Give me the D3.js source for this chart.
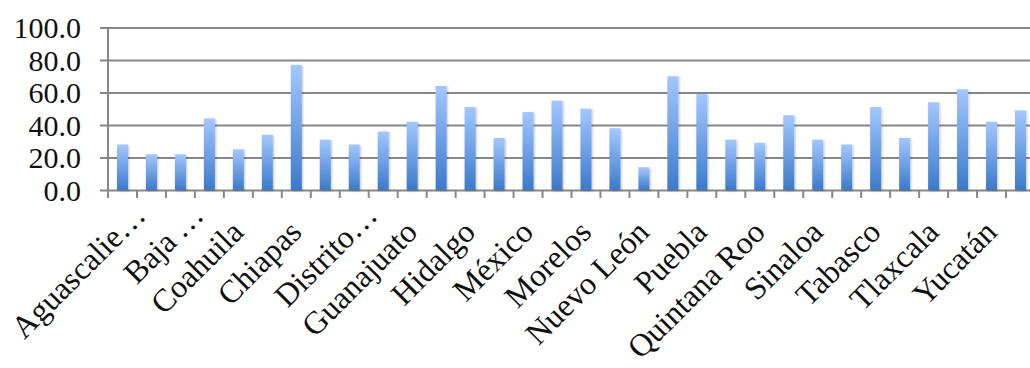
<!DOCTYPE html>
<html>
<head>
<meta charset="UTF-8">
<title>Estados</title>
<script src="https://d3js.org/d3.v7.min.js"></script>
<style>
  body { margin: 0; background: #fff; }
  svg text { font-family: "Liberation Serif", "DejaVu Serif", serif; fill: #111; }
</style>
</head>
<body>
<div id="chart"></div>
<script>
var states = ["Aguascalientes", "Baja California", "Baja California Sur", "Campeche",
  "Coahuila", "Colima", "Chiapas", "Chihuahua", "Distrito Federal", "Durango",
  "Guanajuato", "Guerrero", "Hidalgo", "Jalisco", "México", "Michoacán",
  "Morelos", "Nayarit", "Nuevo León", "Oaxaca", "Puebla", "Querétaro",
  "Quintana Roo", "San Luis Potosí", "Sinaloa", "Sonora", "Tabasco",
  "Tamaulipas", "Tlaxcala", "Veracruz", "Yucatán", "Zacatecas"];
var values = [28, 22, 22, 44, 25, 34, 77, 31, 28, 36, 42, 64, 51, 32, 48, 55,
  50, 38, 14, 70, 59, 31, 29, 46, 31, 28, 51, 32, 54, 62, 42, 49];
// labels that Excel cut short
var shortLabels = {"Aguascalientes": "Aguascalie…", "Baja California Sur": "Baja\u2009…",
  "Distrito Federal": "Distrito…"};
var yTicks = [0, 20, 40, 60, 80, 100];

var width = 1030, height = 368;
var svg = d3.select("#chart").append("svg")
  .attr("width", width)
  .attr("height", height);

var defs = svg.append("defs");
var grad = defs.append("linearGradient")
  .attr("id", "barGrad")
  .attr("x1", 0).attr("y1", 0).attr("x2", 0).attr("y2", 1);
grad.append("stop").attr("offset", "0%").attr("stop-color", "#a3c7ff");
grad.append("stop").attr("offset", "100%").attr("stop-color", "#3b7acb");

var shadow = defs.append("filter").attr("id", "shadow")
  .attr("x", "-50%").attr("y", "-10%").attr("width", "200%").attr("height", "120%");
shadow.append("feDropShadow")
  .attr("dx", 1).attr("dy", 1).attr("stdDeviation", 1.2)
  .attr("flood-color", "#000").attr("flood-opacity", 0.25);

var x = d3.scaleBand()
  .domain(states)
  .range([108, 1035])
  .paddingInner(0.62)
  .paddingOuter(0.31);

var y = d3.scaleLinear()
  .domain([0, 100])
  .range([190, 27.5]);

// gridlines + y labels
var yAxis = d3.axisLeft(y)
  .tickValues(yTicks)
  .tickSize(-(1035 - 108))
  .tickPadding(27)
  .tickFormat(d3.format(".1f"));

var gy = svg.append("g")
  .attr("transform", "translate(108,0)")
  .call(yAxis);
gy.select(".domain").remove();
gy.selectAll(".tick line")
  .attr("x1", -8)
  .attr("stroke", "#878787")
  .attr("stroke-width", 2);
gy.selectAll(".tick text")
  .style("font-size", "30px")
  .attr("dy", "0.34em");

// y axis line
svg.append("line")
  .attr("x1", 108).attr("x2", 108)
  .attr("y1", y(100)).attr("y2", y(0))
  .attr("stroke", "#878787")
  .attr("stroke-width", 2);

// x ticks at category boundaries
var step = x.step();
var tickPos = d3.range(states.length + 1).map(function (i) { return 108 + i * step; });
svg.append("g").selectAll("line")
  .data(tickPos)
  .join("line")
  .attr("x1", function (d) { return d; })
  .attr("x2", function (d) { return d; })
  .attr("y1", y(0))
  .attr("y2", y(0) + 8)
  .attr("stroke", "#878787")
  .attr("stroke-width", 2);

// bars
svg.append("g").selectAll("rect")
  .data(values)
  .join("rect")
  .attr("x", function (d, i) { return x(states[i]); })
  .attr("y", function (d) { return y(d); })
  .attr("width", x.bandwidth())
  .attr("height", function (d) { return y(0) - y(d); })
  .attr("fill", "url(#barGrad)")
  .attr("filter", "url(#shadow)");

// x labels, every other category
svg.append("g").selectAll("text")
  .data(states.filter(function (d, i) { return i % 2 === 0; }))
  .join("text")
  .attr("text-anchor", "end")
  .attr("transform", function (d) {
    var cx = x(d) + x.bandwidth() / 2;
    if (shortLabels[d]) return "translate(" + (cx + 25) + "," + 217 + ") rotate(-45)";
    return "translate(" + (cx + 7) + "," + 234 + ") rotate(-45)";
  })
  .style("font-size", "32px")
  .text(function (d) { return shortLabels[d] || d; });
</script>
</body>
</html>
